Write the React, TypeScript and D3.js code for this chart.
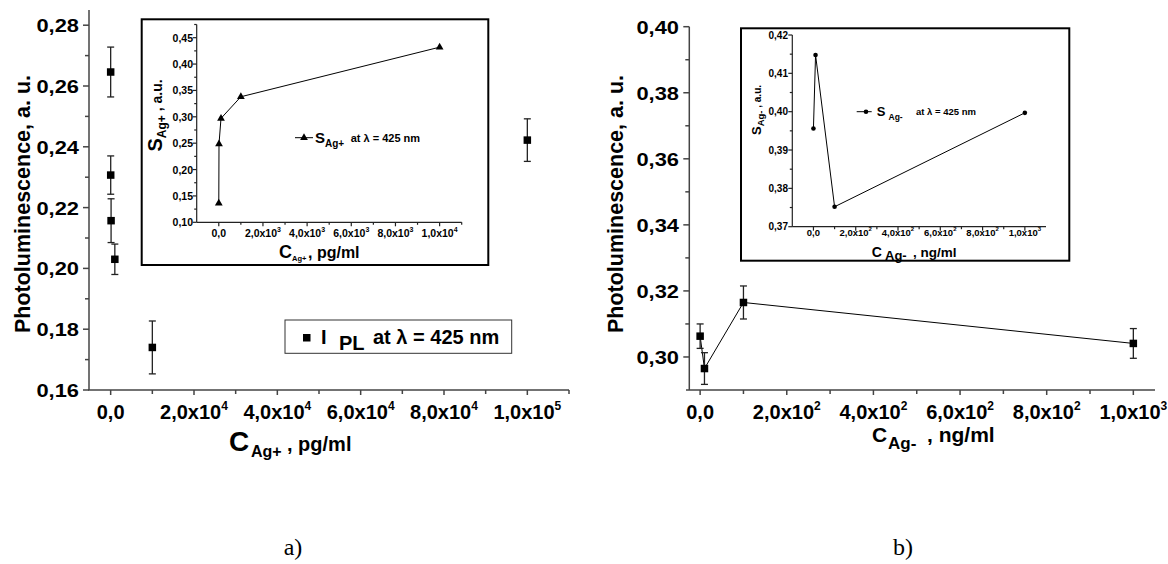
import React from 'react';
import * as d3 from 'd3';

const FONT = "'Liberation Sans', Arial, Helvetica, sans-serif";
const SERIF = "'Liberation Serif', 'Times New Roman', serif";

// ---------- Panel a) main: photoluminescence vs C(Ag+) ----------
const aConc = [0, 10, 100, 1000, 10000, 100000];
const aPL = [0.2646, 0.2307, 0.2157, 0.203, 0.174, 0.2422];
const aErr = [0.0082, 0.0063, 0.0072, 0.005, 0.0087, 0.007];

// ---------- Panel a) inset: S(Ag+) ----------
const aInsetConc = [0, 10, 100, 1000, 10000];
const aInsetS = [0.136, 0.2485, 0.297, 0.338, 0.432];

// ---------- Panel b) main: photoluminescence vs C(Ag-) ----------
const bConc = [0, 10, 100, 1000];
const bPL = [0.3063, 0.2965, 0.3165, 0.3041];
const bErr = [0.0037, 0.0048, 0.005, 0.0045];

// ---------- Panel b) inset: S(Ag-) ----------
const bInsetConc = [0, 10, 100, 1000];
const bInsetS = [0.3956, 0.4148, 0.3752, 0.3997];

// ---------- tick values and labels ----------
const aYTicks = [0.16, 0.18, 0.2, 0.22, 0.24, 0.26, 0.28];
const aYLabels = ['0,16', '0,18', '0,20', '0,22', '0,24', '0,26', '0,28'];
const aXTicks = [0, 20000, 40000, 60000, 80000, 100000];
const aXBase = ['0,0', '2,0x10', '4,0x10', '6,0x10', '8,0x10', '1,0x10'];
const aXSup = ['', '4', '4', '4', '4', '5'];

const aiYTicks = [0.1, 0.15, 0.2, 0.25, 0.3, 0.35, 0.4, 0.45];
const aiYLabels = ['0,10', '0,15', '0,20', '0,25', '0,30', '0,35', '0,40', '0,45'];
const aiXTicks = [0, 2000, 4000, 6000, 8000, 10000];
const aiXBase = ['0,0', '2,0x10', '4,0x10', '6,0x10', '8,0x10', '1,0x10'];
const aiXSup = ['', '3', '3', '3', '3', '4'];

const bYTicks = [0.3, 0.32, 0.34, 0.36, 0.38, 0.4];
const bYLabels = ['0,30', '0,32', '0,34', '0,36', '0,38', '0,40'];
const bXTicks = [0, 200, 400, 600, 800, 1000];
const bXBase = ['0,0', '2,0x10', '4,0x10', '6,0x10', '8,0x10', '1,0x10'];
const bXSup = ['', '2', '2', '2', '2', '3'];

const biYTicks = [0.37, 0.38, 0.39, 0.4, 0.41, 0.42];
const biYLabels = ['0,37', '0,38', '0,39', '0,40', '0,41', '0,42'];
const biXTicks = [0, 200, 400, 600, 800, 1000];
const biXBase = ['0,0', '2,0x10', '4,0x10', '6,0x10', '8,0x10', '1,0x10'];
const biXSup = ['', '2', '2', '2', '2', '3'];

type Lin = d3.ScaleLinear<number, number>;

function YAxis(p: {
  scale: Lin; x: number; major: number[]; minor: number[]; labels: string[];
  majorLen: number; minorLen: number; stroke: string; sw: number;
  fs: number; sx: number; labelX: number; dy: number;
}) {
  const [r0, r1] = p.scale.range();
  return (
    <g>
      <g stroke={p.stroke} strokeWidth={p.sw}>
        <line x1={p.x} x2={p.x} y1={r0} y2={r1} />
        {p.major.map((v) => (
          <line key={'M' + v} x1={p.x - p.majorLen} x2={p.x} y1={p.scale(v)} y2={p.scale(v)} />
        ))}
        {p.minor.map((v) => (
          <line key={'m' + v} x1={p.x - p.minorLen} x2={p.x} y1={p.scale(v)} y2={p.scale(v)} />
        ))}
      </g>
      {p.major.map((v, i) => (
        <text
          key={'t' + v}
          transform={`translate(${p.labelX},${p.scale(v) + p.dy}) scale(${p.sx},1)`}
          textAnchor="end"
          fontSize={p.fs}
          fontWeight="bold"
          fill="#000"
        >
          {p.labels[i]}
        </text>
      ))}
    </g>
  );
}

function XAxis(p: {
  scale: Lin; y: number; major: number[]; minor: number[]; base: string[]; sup: string[];
  majorLen: number; minorLen: number; stroke: string; sw: number;
  fs: number; supFs: number; supDy: number; labelY: number; x0?: number;
}) {
  const [r0, r1] = p.scale.range();
  return (
    <g>
      <g stroke={p.stroke} strokeWidth={p.sw}>
        <line x1={p.x0 ?? r0} x2={r1} y1={p.y} y2={p.y} />
        {p.major.map((v) => (
          <line key={'M' + v} x1={p.scale(v)} x2={p.scale(v)} y1={p.y} y2={p.y + p.majorLen} />
        ))}
        {p.minor.map((v) => (
          <line key={'m' + v} x1={p.scale(v)} x2={p.scale(v)} y1={p.y} y2={p.y + p.minorLen} />
        ))}
      </g>
      {p.major.map((v, i) => (
        <text key={'t' + v} x={p.scale(v)} y={p.labelY} textAnchor="middle" fontSize={p.fs} fontWeight="bold" fill="#000">
          {p.base[i]}
          {p.sup[i] ? (
            <tspan fontSize={p.supFs} dy={p.supDy}>
              {p.sup[i]}
            </tspan>
          ) : null}
        </text>
      ))}
    </g>
  );
}

function ErrorBars(p: { xs: number[]; ys: number[]; es: number[]; x: Lin; y: Lin; cap: number }) {
  return (
    <g stroke="#222" strokeWidth={1.3}>
      {p.xs.map((xv, i) => {
        const cx = p.x(xv);
        const yt = p.y(p.ys[i] + p.es[i]);
        const yb = p.y(p.ys[i] - p.es[i]);
        return (
          <g key={i}>
            <line x1={cx} x2={cx} y1={yt} y2={yb} />
            <line x1={cx - p.cap / 2} x2={cx + p.cap / 2} y1={yt} y2={yt} />
            <line x1={cx - p.cap / 2} x2={cx + p.cap / 2} y1={yb} y2={yb} />
          </g>
        );
      })}
    </g>
  );
}

function Squares(p: { xs: number[]; ys: number[]; x: Lin; y: Lin; s: number }) {
  return (
    <g fill="#000">
      {p.xs.map((xv, i) => (
        <rect key={i} x={p.x(xv) - p.s / 2} y={p.y(p.ys[i]) - p.s / 2} width={p.s} height={p.s} />
      ))}
    </g>
  );
}

export default function App() {
  // panel a main
  const xA = d3.scaleLinear().domain([-5200, 110000]).range([89, 569]);
  const yA = d3.scaleLinear().domain([0.16, 0.285]).range([390, 10]);
  // panel a inset
  const xAI = d3.scaleLinear().domain([-1000, 11000]).range([196.7, 461.7]);
  const yAI = d3.scaleLinear().domain([0.1, 0.475]).range([222.3, 24.5]);
  // panel b main
  const xB = d3.scaleLinear().domain([-25, 1050]).range([689.3, 1155]);
  const yB = d3.scaleLinear().domain([0.29, 0.4]).range([390, 26.7]);
  // panel b inset
  const xBI = d3.scaleLinear().domain([-100, 1100]).range([792.3, 1046]);
  const yBI = d3.scaleLinear().domain([0.37, 0.42]).range([226.7, 35]);

  const lineAI = d3.line<number>().x((_, i) => xAI(aInsetConc[i])).y((d) => yAI(d));
  const lineB = d3.line<number>().x((_, i) => xB(bConc[i])).y((d) => yB(d));
  const lineBI = d3.line<number>().x((_, i) => xBI(bInsetConc[i])).y((d) => yBI(d));
  const tri = d3.symbol().type(d3.symbolTriangle).size(26)() as string;

  return (
    <svg
      width={1168}
      height={564}
      style={{ position: 'absolute', left: 0, top: 0, background: '#fff' }}
      fontFamily={FONT}
    >
      <rect x={0} y={0} width={1168} height={564} fill="#fff" />

      {/* ================= Panel a ================= */}
      <YAxis
        scale={yA} x={89} major={aYTicks} minor={d3.range(0.17, 0.28, 0.02)} labels={aYLabels}
        majorLen={6} minorLen={4} stroke="#444" sw={1.5} fs={17.5} sx={1.25} labelX={79} dy={7}
      />
      <XAxis
        scale={xA} y={390} x0={88} major={aXTicks} minor={d3.range(10000, 110001, 20000)} base={aXBase} sup={aXSup}
        majorLen={5} minorLen={4} stroke="#444" sw={1.5} fs={20} supFs={12} supDy={-9} labelY={419}
      />
      <ErrorBars xs={aConc} ys={aPL} es={aErr} x={xA} y={yA} cap={7} />
      <Squares xs={aConc} ys={aPL} x={xA} y={yA} s={7.5} />

      <text transform="translate(30,204) rotate(-90)" textAnchor="middle" fontSize={21.5} fontWeight="bold">
        Photoluminescence, a. u.
      </text>
      <text fontWeight="bold">
        <tspan x={229} y={451} fontSize={28}>C</tspan>
        <tspan x={251} y={457} fontSize={16}>Ag+</tspan>
        <tspan x={287} y={451} fontSize={20}>, pg/ml</tspan>
      </text>

      {/* legend a */}
      <rect x={285} y={320} width={226.7} height={33.3} fill="#fff" stroke="#333" strokeWidth={1} />
      <rect x={303} y={334} width={7.5} height={7.5} fill="#000" />
      <text fontWeight="bold">
        <tspan x={321} y={344} fontSize={20}>I</tspan>
        <tspan x={339} y={350} fontSize={20}>PL</tspan>
        <tspan x={373} y={344} fontSize={20}>at λ = 425 nm</tspan>
      </text>

      {/* inset a */}
      <rect x={141.7} y={19.3} width={346.6} height={245.7} fill="#fff" stroke="#000" strokeWidth={2} />
      <YAxis
        scale={yAI} x={196.7} major={aiYTicks} minor={d3.range(0.125, 0.48, 0.05)} labels={aiYLabels}
        majorLen={4} minorLen={2.5} stroke="#222" sw={1.2} fs={10.5} sx={1} labelX={193} dy={4}
      />
      <XAxis
        scale={xAI} y={222.3} major={aiXTicks} minor={d3.range(1000, 11001, 2000)} base={aiXBase} sup={aiXSup}
        majorLen={4} minorLen={2.5} stroke="#222" sw={1.2} fs={10.5} supFs={7} supDy={-5} labelY={237}
      />
      <path d={lineAI(aInsetS) ?? ''} fill="none" stroke="#000" strokeWidth={1} />
      <g fill="#000">
        {aInsetConc.map((c, i) => (
          <path key={i} d={tri} transform={`translate(${xAI(c)},${yAI(aInsetS[i])})`} />
        ))}
      </g>
      <text transform="translate(162,115.5) rotate(-90)" textAnchor="middle" fontWeight="bold">
        <tspan fontSize={20}>S</tspan>
        <tspan fontSize={12} dy={4}>Ag+</tspan>
        <tspan fontSize={14} dy={-4}> , a.u.</tspan>
      </text>
      <text fontWeight="bold">
        <tspan x={279} y={258} fontSize={18}>C</tspan>
        <tspan x={292} y={261} fontSize={7.5}>Ag+</tspan>
        <tspan x={308} y={258} fontSize={16}>, pg/ml</tspan>
      </text>
      {/* inset a legend */}
      <line x1={295} x2={313} y1={137.7} y2={137.7} stroke="#000" strokeWidth={1} />
      <path d={tri} transform="translate(304,137.7)" fill="#000" />
      <text fontWeight="bold">
        <tspan x={315} y={143} fontSize={15}>S</tspan>
        <tspan x={325} y={147} fontSize={10}>Ag+</tspan>
        <tspan x={350.7} y={142} fontSize={11}>at λ = 425 nm</tspan>
      </text>

      <text x={293} y={555} textAnchor="middle" fontFamily={SERIF} fontSize={24}>a)</text>

      {/* ================= Panel b ================= */}
      <YAxis
        scale={yB} x={689.3} major={bYTicks} minor={d3.range(0.31, 0.4, 0.02)} labels={bYLabels}
        majorLen={6} minorLen={4} stroke="#444" sw={1.5} fs={17.5} sx={1.25} labelX={679} dy={7}
      />
      <XAxis
        scale={xB} y={390} x0={686} major={bXTicks} minor={d3.range(100, 1001, 200)} base={bXBase} sup={bXSup}
        majorLen={5} minorLen={4} stroke="#444" sw={1.5} fs={20} supFs={12} supDy={-9} labelY={419}
      />
      <path d={lineB(bPL) ?? ''} fill="none" stroke="#000" strokeWidth={1} />
      <ErrorBars xs={bConc} ys={bPL} es={bErr} x={xB} y={yB} cap={7} />
      <Squares xs={bConc} ys={bPL} x={xB} y={yB} s={7.5} />

      <text transform="translate(623,204) rotate(-90)" textAnchor="middle" fontSize={21.5} fontWeight="bold">
        Photoluminescence, a. u.
      </text>
      <text fontWeight="bold">
        <tspan x={872} y={442} fontSize={21}>C</tspan>
        <tspan x={888} y={449} fontSize={17}>Ag-</tspan>
        <tspan x={927} y={442} fontSize={21}>, ng/ml</tspan>
      </text>

      {/* inset b */}
      <rect x={741} y={28.3} width={328.3} height={232.4} fill="#fff" stroke="#000" strokeWidth={2} />
      <YAxis
        scale={yBI} x={792.3} major={biYTicks} minor={d3.range(0.375, 0.42, 0.01)} labels={biYLabels}
        majorLen={4} minorLen={2.5} stroke="#222" sw={1.2} fs={10} sx={1} labelX={788} dy={3.5}
      />
      <XAxis
        scale={xBI} y={226.7} major={biXTicks} minor={d3.range(100, 1001, 200)} base={biXBase} sup={biXSup}
        majorLen={4} minorLen={2.5} stroke="#222" sw={1.2} fs={9.5} supFs={6} supDy={-5} labelY={236}
      />
      <path d={lineBI(bInsetS) ?? ''} fill="none" stroke="#000" strokeWidth={1} />
      <g fill="#000">
        {bInsetConc.map((c, i) => (
          <circle key={i} cx={xBI(c)} cy={yBI(bInsetS[i])} r={2.3} />
        ))}
      </g>
      <text transform="translate(761,110) rotate(-90)" textAnchor="middle" fontWeight="bold">
        <tspan fontSize={13}>S</tspan>
        <tspan fontSize={9.5} dy={3}>Ag-</tspan>
        <tspan fontSize={10} dy={-3}> , a.u.</tspan>
      </text>
      <text fontWeight="bold">
        <tspan x={871.7} y={256.5} fontSize={14}>C</tspan>
        <tspan x={885} y={259.5} fontSize={13}>Ag-</tspan>
        <tspan x={913} y={256.5} fontSize={13.5}>, ng/ml</tspan>
      </text>
      {/* inset b legend */}
      <line x1={856.7} x2={871.7} y1={111.7} y2={111.7} stroke="#000" strokeWidth={1} />
      <circle cx={866} cy={111.7} r={2.3} fill="#000" />
      <text fontWeight="bold">
        <tspan x={876.7} y={116} fontSize={13}>S</tspan>
        <tspan x={888.5} y={119.5} fontSize={8.5}>Ag-</tspan>
        <tspan x={916} y={115} fontSize={9.5}>at λ = 425 nm</tspan>
      </text>

      <text x={903} y={555} textAnchor="middle" fontFamily={SERIF} fontSize={24}>b)</text>
    </svg>
  );
}
